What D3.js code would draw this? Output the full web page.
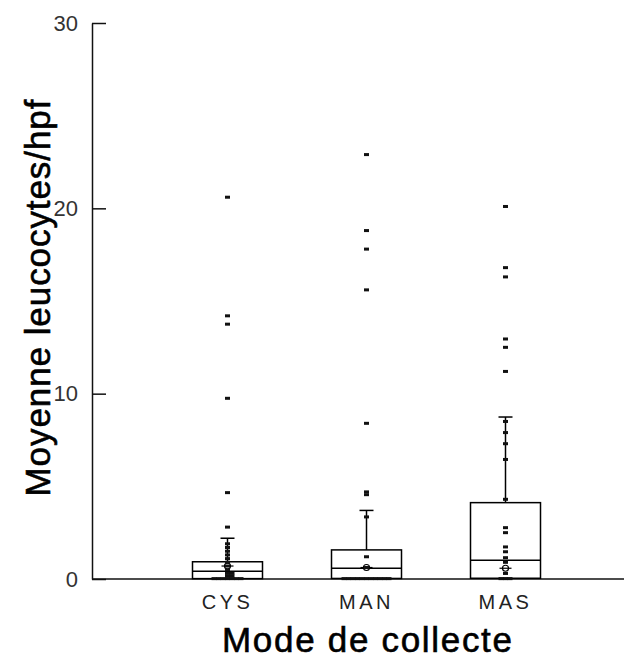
<!DOCTYPE html>
<html>
<head>
<meta charset="utf-8">
<script src="https://cdn.jsdelivr.net/npm/d3@7"></script>
<style>
  body { margin: 0; background: #fff; }
  text { font-family: Arial, "Liberation Sans", sans-serif; }
</style>
</head>
<body>
<div class="chart"></div>
<script>
// data
var categories = ["CYS", "MAN", "MAS"];
var q1 = [0.02, 0.03, 0.04];
var medians = [0.42, 0.58, 1.01];
var q3 = [0.93, 1.57, 4.12];
var whiskerHigh = [2.2, 3.7, 8.74];
var whiskerLow = [0, 0, 0];
var means = [0.7, 0.62, 0.58];
var yTicks = [0, 10, 20, 30];

// individual observations (outliers and points along the whiskers)
var pointsCYS = [20.6, 14.2, 13.75, 9.75, 4.66, 2.8, 1.9, 1.7, 1.5, 1.3, 1.1, 0.9, 0.7, 0.5, 0.3, 0.3, 0.15, 0.15,
  0.02, 0.02, 0.02, 0.02, 0.02, 0.02, 0.02];
var pointsMAN = [22.9, 18.8, 17.8, 15.6, 8.4, 4.7, 4.55, 3.35, 1.2, 0.62,
  0.02, 0.02, 0.02, 0.02, 0.02, 0.02, 0.02, 0.02, 0.02, 0.02, 0.02];
var pointsMAS = [20.1, 16.8, 16.3, 12.95, 12.5, 11.2, 8.5, 7.9, 7.3, 6.45, 4.3, 2.77, 2.5, 1.73, 1.47, 1.15,
  0.9, 0.3, 0.02, 0.02, 0.02];
var points = [pointsCYS, pointsMAN, pointsMAS];

var svgWidth = 638;
var svgHeight = 658;

var svg = d3.select(".chart")
  .append("svg")
  .attr("width", svgWidth)
  .attr("height", svgHeight);

var axisX = 92;
var axisEnd = 624;

var y = d3.scaleLinear()
  .domain([0, 30])
  .range([579, 23]);

var x = d3.scaleBand()
  .domain(categories)
  .range([158, 575]);

var boxW = 70;

// y axis, ticks pointing inside, labels left
var leftAxis = d3.axisLeft(y)
  .tickValues(yTicks)
  .tickSizeInner(-14)
  .tickSizeOuter(0)
  .tickPadding(14);

var yAxisG = svg.append("g")
  .attr("transform", `translate(${axisX}, 0)`)
  .call(leftAxis);
yAxisG.select(".domain").attr("stroke", "#111").attr("stroke-width", 1.5);
yAxisG.selectAll(".tick line").attr("stroke", "#111").attr("stroke-width", 1.5);
yAxisG.selectAll(".tick text")
  .style("font-size", "22px")
  .attr("fill", "#333")
  .attr("font-family", "Arial, 'Liberation Sans', sans-serif");

// x axis labels
var bottomAxis = d3.axisBottom(x).tickSize(0).tickPadding(16);
var xAxisG = svg.append("g")
  .attr("transform", `translate(0, ${y(0)})`)
  .call(bottomAxis);
xAxisG.select(".domain").remove();
xAxisG.selectAll(".tick text")
  .style("font-size", "20px")
  .style("letter-spacing", "3.5px")
  .attr("fill", "#222")
  .attr("font-family", "Arial, 'Liberation Sans', sans-serif");

// x axis line
svg.append("line")
  .attr("x1", axisX).attr("x2", axisEnd)
  .attr("y1", y(0)).attr("y2", y(0))
  .attr("stroke", "#111")
  .attr("stroke-width", 1.5);

// boxes
var groups = svg.selectAll("g.box")
  .data(categories)
  .enter()
  .append("g")
  .attr("class", "box");

groups.each(function(c, i) {
  var g = d3.select(this);
  var cx = x(c) + x.bandwidth() / 2;

  // whiskers
  g.append("line")
    .attr("x1", cx).attr("x2", cx)
    .attr("y1", y(q3[i])).attr("y2", y(whiskerHigh[i]))
    .attr("stroke", "#000").attr("stroke-width", 1.5);
  g.append("line")
    .attr("x1", cx - 7).attr("x2", cx + 7)
    .attr("y1", y(whiskerHigh[i])).attr("y2", y(whiskerHigh[i]))
    .attr("stroke", "#000").attr("stroke-width", 1.5);
  g.append("line")
    .attr("x1", cx).attr("x2", cx)
    .attr("y1", y(q1[i])).attr("y2", y(whiskerLow[i]))
    .attr("stroke", "#000").attr("stroke-width", 1.5);

  g.append("rect")
    .attr("x", cx - boxW / 2)
    .attr("y", y(q3[i]))
    .attr("width", boxW)
    .attr("height", y(q1[i]) - y(q3[i]))
    .attr("fill", "none")
    .attr("stroke", "#000")
    .attr("stroke-width", 1.5);

  g.append("line")
    .attr("x1", cx - boxW / 2).attr("x2", cx + boxW / 2)
    .attr("y1", y(medians[i])).attr("y2", y(medians[i]))
    .attr("stroke", "#000").attr("stroke-width", 1.5);

  // mean marker
  g.append("circle")
    .attr("cx", cx).attr("cy", y(means[i]))
    .attr("r", 3)
    .attr("fill", "none")
    .attr("stroke", "#000").attr("stroke-width", 1.2);
  g.append("line")
    .attr("x1", cx - 6).attr("x2", cx + 6)
    .attr("y1", y(means[i])).attr("y2", y(means[i]))
    .attr("stroke", "#000").attr("stroke-width", 1.2);

  // observations, stacked sideways when values repeat
  var seen = {};
  g.selectAll("rect.pt")
    .data(points[i])
    .enter()
    .append("rect")
    .attr("class", "pt")
    .attr("x", function(d) {
      var k = seen[d] || 0;
      seen[d] = k + 1;
      var off = (k % 2 ? 1 : -1) * Math.ceil(k / 2) * 4.5;
      return cx + off - 2.5;
    })
    .attr("y", d => y(d) - 1.5)
    .attr("width", 5)
    .attr("height", 3)
    .attr("fill", "#111");
});

// axis titles
svg.append("text")
  .attr("transform", "translate(50, 298) rotate(-90)")
  .attr("text-anchor", "middle")
  .attr("textLength", 397)
  .attr("lengthAdjust", "spacing")
  .style("font-size", "35px")
  .attr("fill", "#000")
  .attr("stroke", "#000")
  .attr("stroke-width", 0.6)
  .text("Moyenne leucocytes/hpf");

svg.append("text")
  .attr("x", 367)
  .attr("y", 652)
  .attr("text-anchor", "middle")
  .attr("textLength", 290)
  .attr("lengthAdjust", "spacing")
  .style("font-size", "35px")
  .attr("fill", "#000")
  .attr("stroke", "#000")
  .attr("stroke-width", 0.6)
  .text("Mode de collecte");
</script>
</body>
</html>
